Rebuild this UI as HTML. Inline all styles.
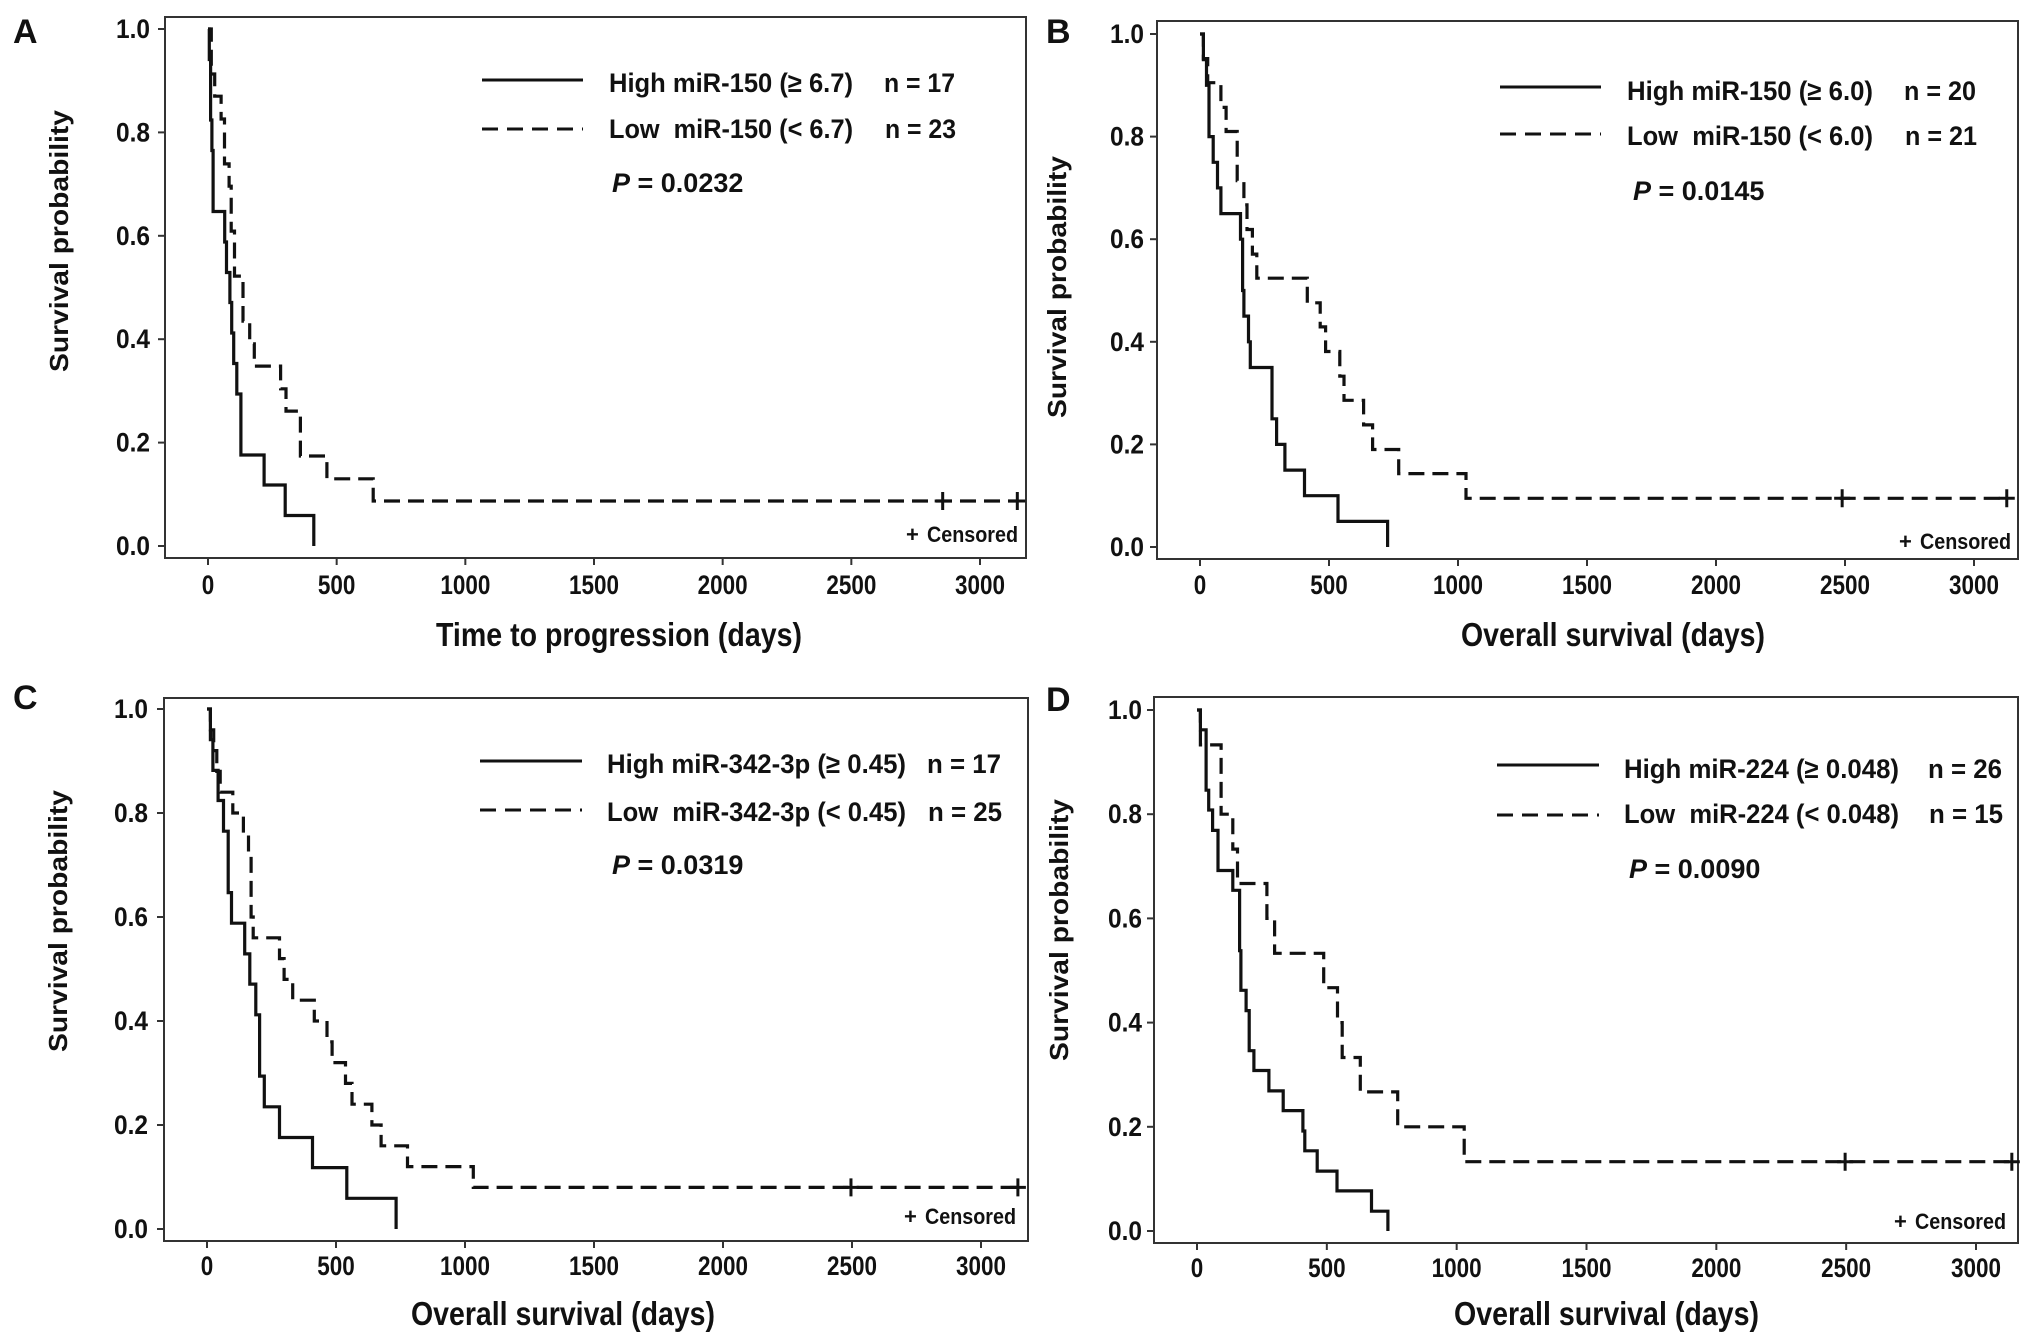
<!DOCTYPE html>
<html><head><meta charset="utf-8"><style>
html,body{margin:0;padding:0;background:#fff;}
svg{display:block;}
text{font-family:"Liberation Sans Narrow","Liberation Sans",sans-serif;font-weight:bold;fill:#111;}
.ttl{font-family:"Liberation Sans",sans-serif;}
</style></head><body>
<svg id="fig" width="2031" height="1337" viewBox="0 0 2031 1337" xmlns="http://www.w3.org/2000/svg"></svg>
<script>
// ---- data (days, survival after event) ----
const xTicks = [0, 500, 1000, 1500, 2000, 2500, 3000];
const yTicks = [0, 0.2, 0.4, 0.6, 0.8, 1.0];
const yTickLabels = ["0.0", "0.2", "0.4", "0.6", "0.8", "1.0"];

const aHighT = [5, 10, 15, 20, 65, 72, 85, 92, 100, 112, 128, 218, 300, 411];
const aHighS = [0.941, 0.824, 0.765, 0.647, 0.588, 0.529, 0.471, 0.412, 0.353, 0.294, 0.176, 0.118, 0.059, 0];
const aLowT = [13, 26, 51, 64, 82, 90, 103, 136, 162, 180, 282, 303, 359, 462, 642];
const aLowS = [0.913, 0.87, 0.826, 0.739, 0.696, 0.609, 0.522, 0.435, 0.391, 0.348, 0.304, 0.261, 0.174, 0.13, 0.087];
const aCens = [2855, 3145];

const bHighT = [13, 25, 35, 51, 68, 81, 157, 165, 170, 188, 195, 279, 297, 329, 405, 535, 727];
const bHighS = [0.95, 0.9, 0.8, 0.75, 0.7, 0.65, 0.6, 0.5, 0.45, 0.4, 0.35, 0.25, 0.2, 0.15, 0.1, 0.05, 0];
const bLowT = [13, 30, 81, 101, 144, 170, 182, 203, 220, 416, 466, 487, 542, 558, 634, 669, 770, 1031];
const bLowS = [0.952, 0.905, 0.857, 0.81, 0.714, 0.667, 0.619, 0.571, 0.524, 0.476, 0.429, 0.381, 0.333, 0.286, 0.238, 0.19, 0.143, 0.095];
const bCens = [2489, 3127];

const cHighT = [13, 23, 43, 64, 82, 95, 146, 166, 189, 204, 222, 281, 409, 542, 733];
const cHighS = [0.941, 0.882, 0.824, 0.765, 0.647, 0.588, 0.529, 0.471, 0.412, 0.294, 0.235, 0.176, 0.118, 0.059, 0];
const cLowT = [13, 26, 38, 51, 100, 141, 161, 171, 179, 281, 299, 332, 416, 465, 485, 537, 562, 639, 675, 777, 1032];
const cLowS = [0.96, 0.92, 0.88, 0.84, 0.8, 0.76, 0.72, 0.6, 0.56, 0.52, 0.48, 0.44, 0.4, 0.36, 0.32, 0.28, 0.24, 0.2, 0.16, 0.12, 0.08];
const cCens = [2496, 3143];

const dHighT = [13, 35, 45, 60, 81, 138, 164, 169, 189, 201, 219, 277, 332, 408, 415, 463, 539, 672, 735];
const dHighS = [0.962, 0.846, 0.808, 0.769, 0.692, 0.654, 0.538, 0.462, 0.423, 0.346, 0.308, 0.269, 0.231, 0.192, 0.154, 0.115, 0.077, 0.038, 0];
const dLowT = [13, 93, 138, 156, 269, 299, 488, 541, 559, 629, 773, 1029];
const dLowS = [0.933, 0.8, 0.733, 0.667, 0.6, 0.533, 0.467, 0.4, 0.333, 0.267, 0.2, 0.133];
const dCens = [2496, 3138];

const NS = "http://www.w3.org/2000/svg";
const svg = document.getElementById("fig");
function mk(tag, attrs, parent, txt){
  const e = document.createElementNS(NS, tag);
  for (const k in attrs) e.setAttribute(k, attrs[k]);
  if (txt !== undefined) e.textContent = txt;
  (parent || svg).appendChild(e);
  return e;
}

const panels = [
 {id:"a", letter:"A", lx:13, ly:43, box:[165,17,1026,558], x0:208, x3000:980, y1:29, y0:546,
  ytr:150, xtb:594, yTitle:[59,241], xTitle:"Time to progression (days)", xtx:[436,802,646],
  hT:aHighT, hS:aHighS, lT:aLowT, lS:aLowS, cens:aCens,
  leg:{lx1:482,lx2:583,r1:80,r2:129,tx:609,tw:244,b1:92,b2:138,nx:884,nw:71,
       t1:"High miR-150 (\u2265 6.7)", t2:"Low\u00a0 miR-150 (< 6.7)", n1:"n = 17", n2:"n = 23",
       px:612, pb:192, pv:"0.0232", cx:906, cb:542}},
 {id:"b", letter:"B", lx:1046, ly:43, box:[1157,21,2018,559], x0:1200, x3000:1974, y1:34, y0:547,
  ytr:1144, xtb:594, yTitle:[1057,287], xTitle:"Overall survival (days)", xtx:[1461,1765,646],
  hT:bHighT, hS:bHighS, lT:bLowT, lS:bLowS, cens:bCens,
  leg:{lx1:1500,lx2:1601,r1:87,r2:134,tx:1627,tw:246,b1:100,b2:145,nx:1904,nw:72,
       t1:"High miR-150 (\u2265 6.0)", t2:"Low\u00a0 miR-150 (< 6.0)", n1:"n = 20", n2:"n = 21",
       px:1633, pb:200, pv:"0.0145", cx:1899, cb:549}},
 {id:"c", letter:"C", lx:13, ly:709, box:[164,698,1028,1241], x0:207, x3000:981, y1:709, y0:1229,
  ytr:148, xtb:1275, yTitle:[58,921], xTitle:"Overall survival (days)", xtx:[411,715,1325],
  hT:cHighT, hS:cHighS, lT:cLowT, lS:cLowS, cens:cCens,
  leg:{lx1:480,lx2:582,r1:761,r2:810,tx:607,tw:299,b1:773,b2:821,nx:927,nw:74,
       t1:"High miR-342-3p (\u2265 0.45)", t2:"Low\u00a0 miR-342-3p (< 0.45)", n1:"n = 17", n2:"n = 25",
       px:612, pb:874, pv:"0.0319", cx:904, cb:1224}},
 {id:"d", letter:"D", lx:1046, ly:711, box:[1154,697,2018,1243], x0:1197, x3000:1976, y1:710, y0:1231,
  ytr:1142, xtb:1277, yTitle:[1059,930], xTitle:"Overall survival (days)", xtx:[1454,1759,1325],
  hT:dHighT, hS:dHighS, lT:dLowT, lS:dLowS, cens:dCens,
  leg:{lx1:1497,lx2:1599,r1:765,r2:815,tx:1624,tw:275,b1:778,b2:823,nx:1928,nw:74,
       t1:"High miR-224 (\u2265 0.048)", t2:"Low\u00a0 miR-224 (< 0.048)", n1:"n = 26", n2:"n = 15",
       px:1629, pb:878, pv:"0.0090", cx:1894, cb:1229}}
];

function stepPath(xs, ys, T, S, endT){
  let d = "M" + xs(0) + "," + ys(1);
  for (let i = 0; i < T.length; i++){
    d += " H" + xs(T[i]).toFixed(1) + " V" + ys(S[i]).toFixed(1);
  }
  if (endT !== undefined) d += " H" + xs(endT).toFixed(1);
  return d;
}

panels.forEach(p => {
  const g = mk("g", {});
  
  
  const xs = v => p.x0 + (p.x3000 - p.x0) * v / 3000;
  const ys = v => p.y0 + (p.y1 - p.y0) * v;
  const [bx1, by1, bx2, by2] = p.box;

  const letter = mk("text", {x:p.lx, y:p.ly, "font-size":34, class:"ttl"}, g, p.letter);
  
  

  const box = mk("rect", {x:bx1, y:by1, width:bx2-bx1, height:by2-by1, fill:"none", stroke:"#333", "stroke-width":2}, g);
  
  

  xTicks.forEach(t => {
    mk("line", {x1:xs(t), x2:xs(t), y1:by2, y2:by2+7, stroke:"#333", "stroke-width":2}, g);
    const tl = mk("text", {x:xs(t), y:p.xtb, "font-size":27, "text-anchor":"middle", textLength:String(t).length*12.5, lengthAdjust:"spacingAndGlyphs"}, g, String(t));
    
    
  });
  yTicks.forEach((t, i) => {
    mk("line", {x1:bx1-7, x2:bx1, y1:ys(t), y2:ys(t), stroke:"#333", "stroke-width":2}, g);
    const tl = mk("text", {x:p.ytr, y:ys(t)+9, "font-size":27, "text-anchor":"end", textLength:34, lengthAdjust:"spacingAndGlyphs"}, g, yTickLabels[i]);
    
    
  });

  const yt = mk("text", {x:0, y:0, "font-size":26, class:"ttl", "text-anchor":"middle",
    transform:"translate(" + (p.yTitle[0]+9) + "," + p.yTitle[1] + ") rotate(-90)", textLength:262, lengthAdjust:"spacingAndGlyphs"}, g, "Survival probability");
  
  

  const xt = mk("text", {x:p.xtx[0], y:p.xtx[2], "font-size":33, textLength:p.xtx[1]-p.xtx[0], lengthAdjust:"spacingAndGlyphs"}, g, p.xTitle);
  
  

  const hp = mk("path", {d:stepPath(xs, ys, p.hT, p.hS), fill:"none", stroke:"#111", "stroke-width":3.2}, g);
  
  

  const lastT = p.cens[p.cens.length-1];
  const lp = mk("path", {d:stepPath(xs, ys, p.lT, p.lS, lastT), fill:"none", stroke:"#111", "stroke-width":3.2, "stroke-dasharray":"16 8"}, g);
  
  

  const finalS = p.lS[p.lS.length-1];
  p.cens.forEach(c => {
    const cm = mk("path", {d:"M" + xs(c) + "," + (ys(finalS)-9) + " v18 M" + (xs(c)-8) + "," + ys(finalS) + " h16", stroke:"#111", "stroke-width":3, fill:"none"}, g);
    
    
  });

  const L = p.leg;
  const l1 = mk("line", {x1:L.lx1, x2:L.lx2, y1:L.r1, y2:L.r1, stroke:"#111", "stroke-width":3}, g);
  
  
  const l2 = mk("line", {x1:L.lx1, x2:L.lx2, y1:L.r2, y2:L.r2, stroke:"#111", "stroke-width":3, "stroke-dasharray":"16 9"}, g);
  
  
  const t1 = mk("text", {x:L.tx, y:L.b1, "font-size":27, textLength:L.tw, lengthAdjust:"spacingAndGlyphs"}, g, L.t1);
  
  
  const t2 = mk("text", {x:L.tx, y:L.b2, "font-size":27, textLength:L.tw, lengthAdjust:"spacingAndGlyphs"}, g, L.t2);
  
  
  const n1 = mk("text", {x:L.nx, y:L.b1, "font-size":27, textLength:L.nw, lengthAdjust:"spacingAndGlyphs"}, g, L.n1);
  
  
  const n2 = mk("text", {x:L.nx+1, y:L.b2, "font-size":27, textLength:L.nw, lengthAdjust:"spacingAndGlyphs"}, g, L.n2);
  
  

  const pt = mk("text", {x:L.px, y:L.pb, "font-size":27}, g);
  
  
  mk("tspan", {"font-style":"italic"}, pt, "P");
  mk("tspan", {}, pt, " = " + L.pv);

  const cp = mk("text", {x:L.cx, y:L.cb, "font-size":22}, g, "+");
  
  
  const ct = mk("text", {x:L.cx+21, y:L.cb, "font-size":22, textLength:91, lengthAdjust:"spacingAndGlyphs"}, g, "Censored");
  
  
});
</script>
</body></html>
